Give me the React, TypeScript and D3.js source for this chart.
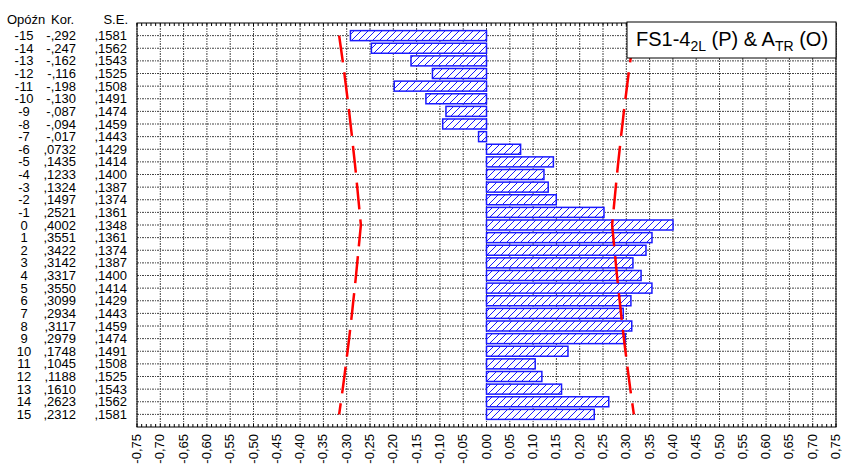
import * as d3 from "d3"

const lags = [-15, -14, -13, -12, -11, -10, -9, -8, -7, -6, -5, -4, -3, -2, -1, 0, 1, 2, 3, 4, 5, 6, 7, 8, 9, 10, 11, 12, 13, 14, 15]
const kor = [
  -0.292, -0.247, -0.162, -0.116, -0.198, -0.13, -0.087, -0.094, -0.017, 0.0732, 0.1435, 0.1233, 0.1324, 0.1497, 0.2521,
  0.4002, 0.3551, 0.3422, 0.3142, 0.3317, 0.355, 0.3099, 0.2934, 0.3117, 0.2979, 0.1748, 0.1045, 0.1188, 0.161, 0.2623, 0.2312,
]
const se = [
  0.1581, 0.1562, 0.1543, 0.1525, 0.1508, 0.1491, 0.1474, 0.1459, 0.1443, 0.1429, 0.1414, 0.14, 0.1387, 0.1374, 0.1361,
  0.1348, 0.1361, 0.1374, 0.1387, 0.14, 0.1414, 0.1429, 0.1443, 0.1459, 0.1474, 0.1491, 0.1508, 0.1525, 0.1543, 0.1562, 0.1581,
]
const xTicks = d3.range(-15, 16).map((i) => i * 0.05)

const W = 842
const H = 467
const PLOT = { left: 137, right: 836, top: 23, bottom: 427 }
const FONT = "'Liberation Sans', Arial, sans-serif"

const fmtKor = (v: number) => (v < 0 ? "-," + Math.abs(v).toFixed(3).slice(2) : "," + v.toFixed(4).slice(2))
const fmtSe = (v: number) => "," + v.toFixed(4).slice(2)
const fmtTick = (v: number) => (Math.abs(v) < 1e-9 ? "0,00" : v.toFixed(2).replace(".", ","))

export default function App() {
  const x = d3.scaleLinear().domain([-0.75, 0.75]).range([PLOT.left, PLOT.right])
  const y = d3.scaleLinear().domain([-16, 16]).range([PLOT.top, PLOT.bottom])

  const minor = d3.range(-75, 76).map((i) => i / 100)

  const upper = d3
    .line<number>()
    .x((d, i) => x(2 * se[i]))
    .y((d) => y(d))(lags)
  const lower = d3
    .line<number>()
    .x((d, i) => x(-2 * se[i]))
    .y((d) => y(d))(lags)

  const grid = { stroke: "#444", strokeWidth: 1, strokeDasharray: "2,1,1,1" }

  return (
    <svg width={W} height={H} style={{ position: "absolute", left: 0, top: 0, background: "#fff" }} fontFamily={FONT}>
      <defs>
        <pattern id="hatch" patternUnits="userSpaceOnUse" width={7} height={7}>
          <rect width={7} height={7} fill="#fff" />
          <line x1={0} y1={7} x2={7} y2={0} stroke="#1a1aff" strokeWidth={1} />
          <line x1={-1} y1={1} x2={1} y2={-1} stroke="#1a1aff" strokeWidth={1} />
          <line x1={6} y1={8} x2={8} y2={6} stroke="#1a1aff" strokeWidth={1} />
        </pattern>
      </defs>
      <rect width={W} height={H} fill="#fff" />

      {/* column headers */}
      <g fontSize={13} fill="#000">
        <text x={7} y={24}>Opóźn</text>
        <text x={51} y={24}>Kor.</text>
        <text x={128} y={24} textAnchor="end">S.E.</text>
      </g>

      {/* row labels */}
      <g fontSize={13} fill="#000">
        {lags.map((l, i) => (
          <g key={l}>
            <text x={24} y={y(l) + 4.5} textAnchor="middle">{l}</text>
            <text x={76} y={y(l) + 4.5} textAnchor="end">{fmtKor(kor[i])}</text>
            <text x={127} y={y(l) + 4.5} textAnchor="end">{fmtSe(se[i])}</text>
          </g>
        ))}
      </g>

      {/* grid */}
      {lags.map((l) => (
        <line key={"h" + l} x1={PLOT.left} x2={PLOT.right} y1={y(l)} y2={y(l)} {...grid} />
      ))}
      {xTicks.map((t) => (
        <line key={"v" + t} x1={x(t)} x2={x(t)} y1={PLOT.top} y2={PLOT.bottom} {...grid} />
      ))}

      {/* minor ticks on top and bottom */}
      {minor.map((t) => (
        <g key={"m" + t} stroke="#000" strokeWidth={1}>
          <line x1={x(t)} x2={x(t)} y1={PLOT.top} y2={PLOT.top + 3} />
          <line x1={x(t)} x2={x(t)} y1={PLOT.bottom} y2={PLOT.bottom - 3} />
        </g>
      ))}

      {/* bars */}
      {lags.map((l, i) => {
        const v = kor[i]
        const x0 = x(Math.min(0, v))
        const x1 = x(Math.max(0, v))
        return (
          <rect
            key={"b" + l}
            x={x0}
            y={y(l) - 5}
            width={x1 - x0}
            height={10}
            fill="url(#hatch)"
            stroke="#1a1aff"
            strokeWidth={1.5}
          />
        )
      })}

      {/* confidence limits */}
      <path d={upper ?? ""} fill="none" stroke="#ff0000" strokeWidth={2.5} strokeDasharray="27,10" />
      <path d={lower ?? ""} fill="none" stroke="#ff0000" strokeWidth={2.5} strokeDasharray="27,10" />

      {/* frame */}
      <rect
        x={PLOT.left}
        y={PLOT.top}
        width={PLOT.right - PLOT.left}
        height={PLOT.bottom - PLOT.top}
        fill="none"
        stroke="#000"
        strokeWidth={1}
      />

      {/* x tick labels */}
      <g fontSize={13} fill="#000">
        {xTicks.map((t) => (
          <text
            key={"t" + t}
            transform={`translate(${x(t) + 4},${PLOT.bottom + 7}) rotate(-90)`}
            textAnchor="end"
          >
            {fmtTick(t)}
          </text>
        ))}
      </g>

      {/* title box */}
      <rect x={627} y={22} width={209} height={36} fill="#fff" stroke="#000" strokeWidth={1} />
      <text x={636} y={46} fontSize={20} fill="#000">
        FS1-4<tspan fontSize={14} dy={5}>2L</tspan>
        <tspan dy={-5}> (P) &amp; A</tspan>
        <tspan fontSize={14} dy={5}>TR</tspan>
        <tspan dy={-5}> (O)</tspan>
      </text>
    </svg>
  )
}
